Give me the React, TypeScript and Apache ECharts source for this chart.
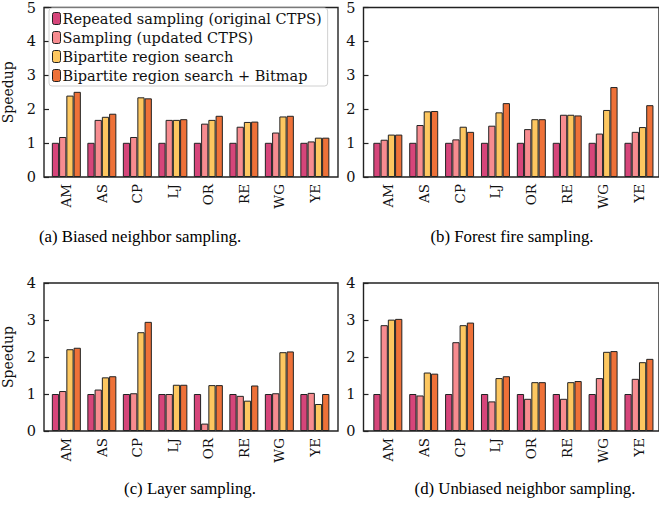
import React, { useEffect, useRef } from "react";
import * as echarts from "echarts";

const categories = ["AM", "AS", "CP", "LJ", "OR", "RE", "WG", "YE"];
const methodNames = [
  "Repeated sampling (original CTPS)",
  "Sampling (updated CTPS)",
  "Bipartite region search",
  "Bipartite region search + Bitmap",
];
const methodColors = ["#d6457a", "#f78c90", "#fdc760", "#ee7138"];

// (a) Biased neighbor sampling
const aRepeated = [1, 1, 1, 1, 1, 1, 1, 1];
const aSampling = [1.17, 1.67, 1.17, 1.67, 1.56, 1.47, 1.3, 1.04];
const aBipartite = [2.38, 1.76, 2.33, 1.67, 1.67, 1.61, 1.77, 1.15];
const aBitmap = [2.49, 1.85, 2.3, 1.69, 1.79, 1.62, 1.79, 1.15];

// (b) Forest fire sampling
const bRepeated = [1, 1, 1, 1, 1, 1, 1, 1];
const bSampling = [1.09, 1.52, 1.1, 1.5, 1.4, 1.82, 1.27, 1.32];
const bBipartite = [1.24, 1.92, 1.47, 1.89, 1.69, 1.82, 1.96, 1.46];
const bBitmap = [1.24, 1.93, 1.32, 2.16, 1.69, 1.8, 2.63, 2.1];

// (c) Layer sampling
const cRepeated = [1, 1, 1, 1, 1, 1, 1, 1];
const cSampling = [1.08, 1.12, 1.02, 1.0, 0.2, 0.95, 1.02, 1.03];
const cBipartite = [2.21, 1.45, 2.67, 1.25, 1.24, 0.82, 2.13, 0.73];
const cBitmap = [2.25, 1.48, 2.95, 1.25, 1.24, 1.23, 2.15, 1.0];

// (d) Unbiased neighbor sampling
const dRepeated = [1, 1, 1, 1, 1, 1, 1, 1];
const dSampling = [2.86, 0.96, 2.4, 0.8, 0.87, 0.87, 1.43, 1.41];
const dBipartite = [3.01, 1.58, 2.86, 1.43, 1.32, 1.32, 2.14, 1.86];
const dBitmap = [3.03, 1.55, 2.93, 1.48, 1.32, 1.35, 2.16, 1.95];

const yTicksTop = [0, 1, 2, 3, 4, 5];
const yTicksBottom = [0, 1, 2, 3, 4];

const captions = [
  "(a) Biased neighbor sampling.",
  "(b) Forest fire sampling.",
  "(c) Layer sampling.",
  "(d) Unbiased neighbor sampling.",
];

const SERIF = "'DejaVu Serif', serif";
const CAPTION_FONT = "'Liberation Serif', 'Times New Roman', serif";

export default function App() {
  const ref = useRef<HTMLDivElement>(null);

  useEffect(() => {
    if (!ref.current) return;
    const chart = echarts.init(ref.current, undefined, { renderer: "svg" });

    const panels = [
      { data: [aRepeated, aSampling, aBipartite, aBitmap], ticks: yTicksTop, frame: { left: 43, top: 6, width: 295, height: 171 }, bars: { left: 48.6, width: 284 }, ylabel: true },
      { data: [bRepeated, bSampling, bBipartite, bBitmap], ticks: yTicksTop, frame: { left: 363.5, top: 6, width: 300, height: 171 }, bars: { left: 369.9, width: 287 }, ylabel: false },
      { data: [cRepeated, cSampling, cBipartite, cBitmap], ticks: yTicksBottom, frame: { left: 43, top: 283, width: 295, height: 148 }, bars: { left: 48.6, width: 284 }, ylabel: true },
      { data: [dRepeated, dSampling, dBipartite, dBitmap], ticks: yTicksBottom, frame: { left: 363.5, top: 283, width: 300, height: 148 }, bars: { left: 369.9, width: 287 }, ylabel: false },
    ];

    const grid: any[] = [];
    const xAxis: any[] = [];
    const yAxis: any[] = [];
    const series: any[] = [];

    panels.forEach((p, pi) => {
      const fi = pi * 2;
      const bi = pi * 2 + 1;
      const yMax = p.ticks[p.ticks.length - 1];
      grid.push({
        left: p.frame.left,
        top: p.frame.top,
        width: p.frame.width,
        height: p.frame.height,
        show: true,
        borderColor: "#222",
        borderWidth: 1.4,
        backgroundColor: "transparent",
      });
      grid.push({
        left: p.bars.left,
        top: p.frame.top,
        width: p.bars.width,
        height: p.frame.height,
      });
      xAxis.push({ gridIndex: fi, type: "value", show: false, min: 0, max: 1 });
      xAxis.push({
        gridIndex: bi,
        type: "category",
        data: categories,
        axisLine: { show: false },
        axisTick: { show: false },
        axisLabel: {
          rotate: 90,
          margin: 7,
          fontFamily: SERIF,
          fontSize: 13.5,
          color: "#111",
          interval: 0,
        },
      });
      yAxis.push({
        gridIndex: fi,
        type: "value",
        min: 0,
        max: yMax,
        interval: 1,
        name: p.ylabel ? "Speedup" : "",
        nameLocation: "middle",
        nameGap: 29,
        nameRotate: 90,
        nameTextStyle: { fontFamily: SERIF, fontSize: 14, color: "#111" },
        axisLine: { show: false },
        axisTick: { show: true, inside: true, length: 5, lineStyle: { color: "#222", width: 1.2 } },
        splitLine: { show: false },
        axisLabel: { fontFamily: SERIF, fontSize: 14.5, color: "#111", margin: 8 },
      });
      yAxis.push({ gridIndex: bi, type: "value", min: 0, max: yMax, show: false, splitLine: { show: false } });

      p.data.forEach((vals, mi) => {
        series.push({
          type: "bar",
          name: methodNames[mi],
          xAxisIndex: bi,
          yAxisIndex: bi,
          data: vals,
          barWidth: 7.25,
          barGap: "0%",
          itemStyle: { color: methodColors[mi], borderColor: "#222", borderWidth: 1 },
          z: 3,
        });
      });
    });

    const captionPos = [
      { x: 140, y: 236 },
      { x: 512, y: 236 },
      { x: 190, y: 488 },
      { x: 525, y: 488 },
    ];

    chart.setOption({
      animation: false,
      backgroundColor: "#fff",
      grid,
      xAxis,
      yAxis,
      series,
      legend: {
        data: methodNames,
        orient: "vertical",
        left: 49,
        top: 8,
        padding: [3, 6, 3, 3],
        itemGap: 4,
        itemWidth: 8,
        itemHeight: 12,
        backgroundColor: "#fff",
        borderColor: "#d0d0d0",
        borderWidth: 1,
        borderRadius: 3,
        textStyle: { fontFamily: SERIF, fontSize: 14.5, color: "#111", padding: [0, 0, 0, -3] },
        itemStyle: { borderColor: "#222", borderWidth: 1 },
        selectedMode: false,
        z: 10,
      },
      graphic: captions.map((t, i) => ({
        type: "text",
        x: captionPos[i].x,
        y: captionPos[i].y,
        style: {
          text: t,
          fontFamily: CAPTION_FONT,
          fontSize: 16.8,
          fill: "#000",
          align: "center",
          verticalAlign: "middle",
        },
      })),
    });

    return () => chart.dispose();
  }, []);

  return (
    <div
      ref={ref}
      style={{ position: "absolute", left: 0, top: 0, width: 659, height: 508 }}
    />
  );
}
